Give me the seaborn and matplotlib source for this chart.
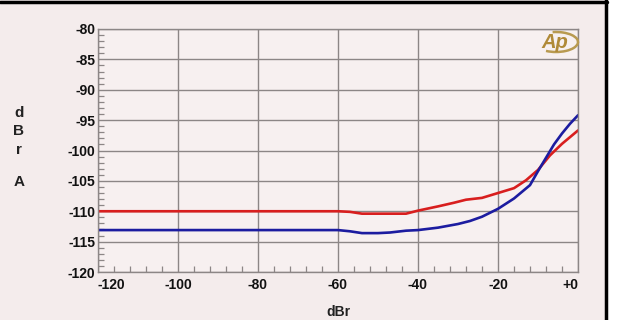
import numpy as np
import pandas as pd
import matplotlib
matplotlib.use("Agg")
import matplotlib.pyplot as plt
from matplotlib.patches import Ellipse, Rectangle, Arc
from matplotlib.lines import Line2D
from matplotlib.ticker import MultipleLocator
from matplotlib import font_manager
import seaborn as sns

# ---- data ----
x_red = [-120, -60, -57, -54, -50, -46, -43, -40, -35, -31, -28, -24, -20, -16, -13, -10, -7, -4, -2, 0]
y_red = [-110, -110, -110.1, -110.4, -110.4, -110.4, -110.4, -109.9, -109.2, -108.6, -108.1, -107.8,
         -107.0, -106.2, -104.9, -103.2, -100.8, -98.9, -97.8, -96.7]
x_blue = [-120, -60, -57, -54, -50, -47, -43, -40, -35, -30, -27, -24, -20, -16, -12, -10, -8, -6, -4, -2, 0]
y_blue = [-113.1, -113.1, -113.3, -113.6, -113.6, -113.5, -113.2, -113.1, -112.7, -112.1, -111.6, -110.9,
          -109.6, -107.9, -105.7, -103.4, -101.2, -99.0, -97.2, -95.6, -94.2]
x_ticks = [-120, -100, -80, -60, -40, -20, 0]
x_tick_labels = ["-120", "-100", "-80", "-60", "-40", "-20", "+0"]
y_ticks = [-120, -115, -110, -105, -100, -95, -90, -85, -80]
y_tick_labels = ["-120", "-115", "-110", "-105", "-100", "-95", "-90", "-85", "-80"]

df = pd.concat([
    pd.DataFrame({"x": x_red, "y": y_red, "s": "red"}),
    pd.DataFrame({"x": x_blue, "y": y_blue, "s": "blue"}),
])

sns.set_theme(style="white")
names = {f.name for f in font_manager.fontManager.ttflist}
narrow = "Liberation Sans Narrow" if "Liberation Sans Narrow" in names else None
plt.rcParams["font.family"] = ["Liberation Sans", "DejaVu Sans"]
tick_family = [narrow, "Liberation Sans"] if narrow else ["Liberation Sans"]
tick_size = 11.5 if narrow else 10

W, H = 622, 320
fig = plt.figure(figsize=(W / 100, H / 100), dpi=100)
fig.patch.set_facecolor("#f4ecec")
ax = fig.add_axes([98 / W, 1 - 272 / H, 480 / W, 243 / H])
ax.set_facecolor("#f7f0f0")

sns.lineplot(data=df, x="x", y="y", hue="s", palette={"red": "#d81e1e", "blue": "#1c1ca0"},
             hue_order=["red", "blue"], linewidth=1.9, legend=False, ax=ax, sort=False,
             estimator=None)

ax.set_xlim(-120, 0)
ax.set_ylim(-120, -80)
ax.set_xticks(x_ticks)
ax.set_xticklabels(x_tick_labels)
ax.set_yticks(y_ticks)
ax.set_yticklabels(y_tick_labels)
ax.xaxis.set_minor_locator(MultipleLocator(4))
ax.yaxis.set_minor_locator(MultipleLocator(1))
ax.grid(True, which="major", color="#8c8686", linewidth=1.0)
ax.set_axisbelow(True)
ax.tick_params(axis="both", which="major", direction="in", length=0,
               labelcolor="#111111")
ax.tick_params(axis="x", which="major", pad=4)
ax.tick_params(axis="y", which="major", pad=2)
ax.tick_params(axis="both", which="minor", direction="in", length=4, width=0.9,
               color="#8c8686", bottom=True, left=True)
for lab in ax.get_xticklabels() + ax.get_yticklabels():
    lab.set_fontweight("bold")
    lab.set_family(tick_family)
    lab.set_fontsize(tick_size)
xl = ax.get_xticklabels()
xl[0].set_ha("left")
xl[-1].set_ha("right")
for sp in ax.spines.values():
    sp.set_color("#8c8686")
    sp.set_linewidth(1.0)
ax.set_xlabel("")
ax.set_ylabel("")

# x label
fig.text(338 / W, 1 - 312 / H, "dBr", ha="center", va="center", fontsize=tick_size,
         fontweight="bold", color="#222222", family=tick_family)
# stacked y label
for ch, yy in [("d", 113), ("B", 131), ("r", 150), ("A", 182)]:
    fig.text(19 / W, 1 - yy / H, ch, ha="center", va="center", fontsize=11,
             fontweight="bold", color="#222222")

# logo
fig.add_artist(Arc((556 / W, 1 - 42 / H), 44 / W, 20 / H, transform=fig.transFigure,
                   theta1=-120, theta2=100, edgecolor="#b89a50", linewidth=1.8))
fig.text(555 / W, 1 - 42 / H, "Ap", ha="center", va="center", fontsize=14.5,
         fontstyle="italic", fontweight="bold", color="#b08a38")

# outer frame
fig.add_artist(Rectangle((607 / W, 0), 15 / W, 1, transform=fig.transFigure,
                         facecolor="white", edgecolor="none"))
fig.add_artist(Line2D([0, 607 / W], [1 - 1.5 / H, 1 - 1.5 / H], transform=fig.transFigure,
                      color="black", linewidth=2.5))
fig.add_artist(Line2D([605.5 / W, 605.5 / W], [0, 1], transform=fig.transFigure,
                      color="black", linewidth=2.5))

fig.savefig("out.png", dpi=100, facecolor=fig.get_facecolor())
